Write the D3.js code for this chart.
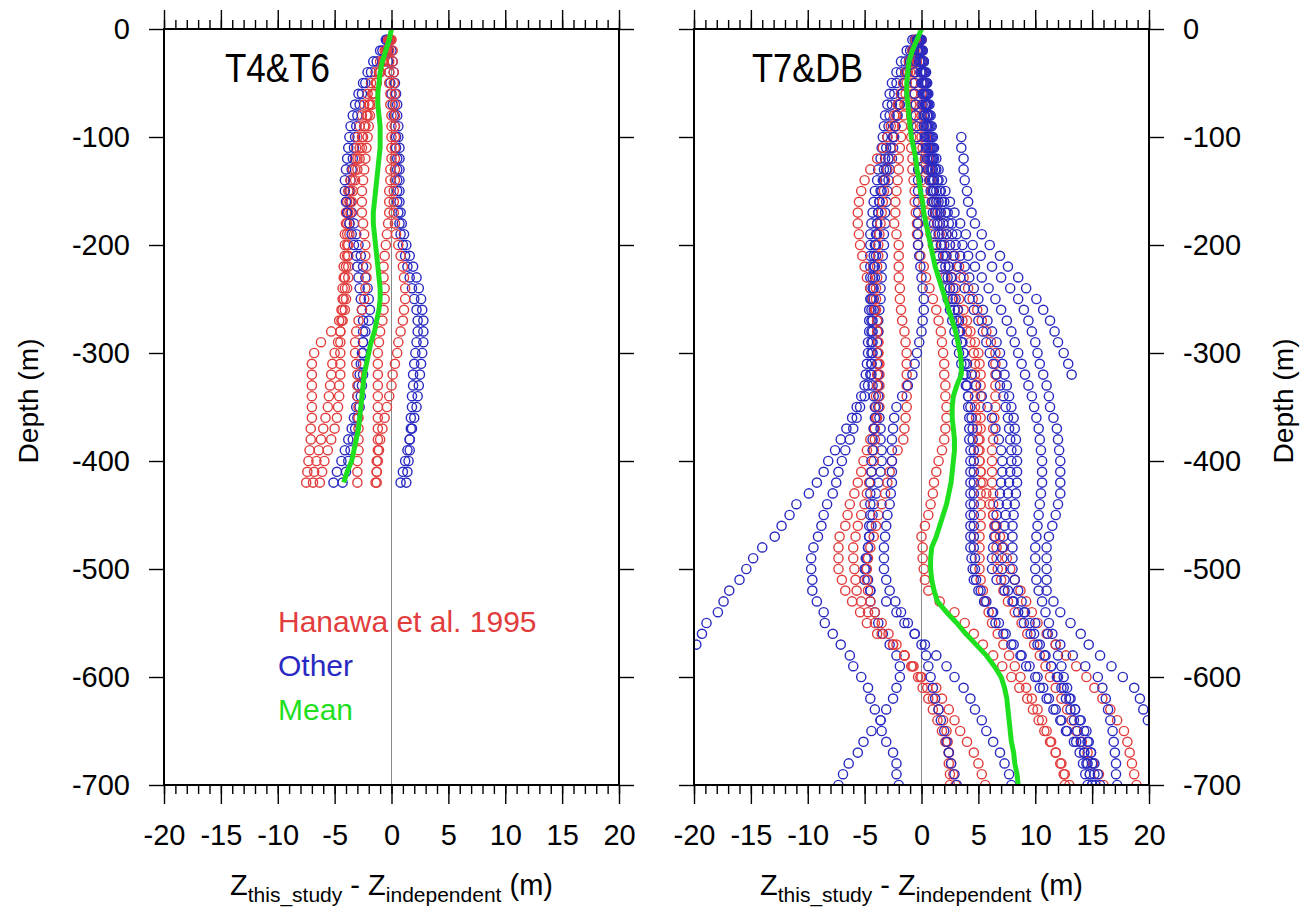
<!DOCTYPE html>
<html>
<head>
<meta charset="utf-8">
<script src="https://cdn.jsdelivr.net/npm/d3@7"></script>
<style>
  body { margin: 0; background: #fff; }
  text { font-family: "Liberation Sans", Arial, Helvetica, sans-serif; }
</style>
</head>
<body>
<div id="chart"></div>
<script>
// ---- data: x offsets (m) every 10 m of depth ----
const xTicks = [-20, -15, -10, -5, 0, 5, 10, 15, 20];
const yTicks = [0, -100, -200, -300, -400, -500, -600, -700];
const depthStep = 10;

// T4&T6 panel, circles start at 10 m
const t4Red = [
  [-0.3,-0.6,-1.0,-1.4,-1.8,-2.1,-2.4,-2.6,-2.8,-3.0,-3.1,-3.2,-3.4,-3.6,-3.8,-3.9,-4.0,-4.0,-4.1,-4.1,-4.1,-4.2,-4.2,-4.3,-4.3,-4.4,-4.6,-5.3,-6.2,-6.8,-7.0,-7.0,-7.0,-7.0,-7.0,-7.0,-7.1,-7.1,-7.2,-7.3,-7.4,-7.5],
  [-0.2,-0.5,-0.8,-1.1,-1.4,-1.7,-2.0,-2.2,-2.4,-2.6,-2.8,-3.0,-3.2,-3.4,-3.6,-3.7,-3.8,-3.9,-3.9,-3.9,-3.9,-4.0,-4.1,-4.1,-4.2,-4.3,-4.4,-4.5,-4.7,-5.0,-5.2,-5.3,-5.4,-5.5,-5.6,-5.8,-6.0,-6.2,-6.4,-6.6,-6.8,-6.9],
  [-0.2,-0.4,-0.7,-1.0,-1.3,-1.6,-1.9,-2.1,-2.3,-2.5,-2.6,-2.8,-3.0,-3.2,-3.4,-3.5,-3.6,-3.7,-3.7,-3.8,-3.8,-3.8,-3.8,-3.9,-4.0,-4.1,-4.3,-4.5,-4.5,-4.5,-4.5,-4.5,-4.6,-4.6,-4.7,-4.8,-5.0,-5.3,-5.6,-5.9,-6.1,-6.3],
  [-0.2,-0.4,-0.7,-1.0,-1.3,-1.5,-1.7,-1.9,-2.0,-2.1,-2.2,-2.3,-2.4,-2.5,-2.6,-2.6,-2.6,-2.5,-2.4,-2.3,-2.3,-2.2,-2.2,-2.3,-2.4,-2.6,-2.9,-3.1,-3.2,-3.2,-3.1,-3.0,-3.0,-3.0,-2.9,-2.9,-2.9,-2.9,-2.9,-3.0,-3.0,-3.0],
  [-0.1,-0.2,-0.2,-0.2,-0.2,-0.1,-0.1,0.0,0.0,0.0,0.0,0.0,-0.1,-0.1,-0.2,-0.2,-0.2,-0.3,-0.4,-0.5,-0.6,-0.7,-0.7,-0.6,-0.6,-0.7,-0.8,-1.0,-1.1,-1.2,-1.2,-1.2,-1.2,-1.2,-1.2,-1.2,-1.2,-1.2,-1.2,-1.3,-1.3,-1.3],
  [0.0,0.1,0.1,0.2,0.2,0.3,0.3,0.3,0.3,0.3,0.3,0.3,0.3,0.3,0.2,0.2,0.2,0.3,0.4,0.6,0.8,1.0,1.1,1.2,1.2,1.1,1.0,0.8,0.6,0.5,0.3,0.1,0.0,-0.2,-0.4,-0.6,-0.8,-1.0,-1.1,-1.2,-1.3,-1.4]
];
const t4Blue = [
  [-0.4,-0.8,-1.3,-1.8,-2.3,-2.6,-2.8,-3.0,-3.1,-3.2,-3.3,-3.4,-3.5,-3.6,-3.7,-3.6,-3.5,-3.3,-3.1,-2.9,-2.7,-2.5,-2.3,-2.1,-2.0,-1.9,-2.0,-2.3,-2.5,-2.6,-2.7,-2.8,-2.9,-3.0,-3.1,-3.3,-3.5,-3.8,-4.1,-4.4,-4.8,-5.1],
  [-0.1,0.0,0.1,0.2,0.3,0.4,0.5,0.5,0.6,0.6,0.7,0.7,0.7,0.7,0.7,0.7,0.8,0.9,1.1,1.3,1.6,1.9,2.2,2.4,2.6,2.7,2.8,2.8,2.8,2.7,2.6,2.5,2.4,2.3,2.2,2.0,1.8,1.6,1.4,1.2,1.0,0.8],
  [-0.2,-0.3,-0.3,-0.2,-0.1,0.0,0.1,0.2,0.3,0.4,0.4,0.5,0.5,0.5,0.5,0.5,0.6,0.7,0.8,1.0,1.2,1.4,1.6,1.8,2.0,2.2,2.3,2.3,2.2,2.1,2.0,1.9,1.9,1.8,1.8,1.7,1.7,1.6,1.6,1.5,1.4,1.3],
  [-0.5,-1.0,-1.6,-2.1,-2.5,-2.9,-3.2,-3.4,-3.6,-3.7,-3.8,-3.9,-4.0,-4.1,-4.1,-4.0,-3.9,-3.7,-3.5,-3.3,-3.1,-3.0,-2.9,-2.8,-2.7,-2.6,-2.5,-2.5,-2.5,-2.5,-2.5,-2.5,-2.6,-2.7,-2.8,-3.0,-3.2,-3.4,-3.6,-3.8,-4.0,-4.3]
];
// mean starts at 0 m
const t4Mean = [0,-0.2,-0.5,-0.8,-1.0,-1.1,-1.2,-1.2,-1.1,-1.0,-1.0,-1.0,-1.1,-1.2,-1.3,-1.4,-1.5,-1.6,-1.6,-1.5,-1.4,-1.3,-1.2,-1.1,-1.0,-1.0,-1.1,-1.3,-1.5,-1.8,-2.0,-2.2,-2.4,-2.5,-2.6,-2.7,-2.8,-2.9,-3.1,-3.3,-3.5,-3.9,-4.2];

// T7&DB panel
const t7Red = [
  [-0.3,-0.4,-0.6,-0.7,-0.8,-0.8,-0.9,-0.9,-0.9,-0.9,-0.9,-0.8,-0.8,-0.7,-0.6,-0.6,-0.5,-0.4,-0.4,-0.3,-0.1,0.2,0.4,0.7,1.0,1.3,1.5,1.7,1.8,1.9,2.0,2.0,2.1,2.1,2.2,2.2,2.1,2.0,1.8,1.5,1.3,1.1,1.0,0.8,0.6,0.3,0.0,0.1,0.1,0.2,0.3,0.6,1.6,2.9,3.8,4.6,5.4,6.3,7.1,7.9,8.6,9.3,9.8,10.3,10.8,11.3,11.8,12.3,12.5,12.6],
  [-0.5,-0.7,-1.0,-1.2,-1.5,-1.8,-2.1,-2.4,-2.7,-3.0,-3.4,-3.9,-4.5,-5.0,-5.3,-5.5,-5.6,-5.6,-5.5,-5.4,-5.2,-5.0,-4.8,-4.5,-4.3,-4.1,-3.9,-3.8,-3.8,-3.8,-3.7,-3.7,-3.7,-3.7,-3.7,-3.9,-4.2,-4.5,-4.8,-5.1,-5.3,-5.6,-5.9,-6.3,-6.5,-6.7,-7.2,-7.3,-7.3,-7.3,-7.0,-6.7,-6.1,-5.4,-4.8,-3.9,-2.5,-1.5,-0.9,-0.1,0.5,1.0,1.5,1.9,2.2,2.3,2.4,2.4,2.5,2.5],
  [-0.5,-0.8,-1.1,-1.4,-1.6,-1.8,-2.0,-2.2,-2.4,-2.5,-2.7,-2.9,-3.0,-3.2,-3.3,-3.4,-3.5,-3.6,-3.7,-3.8,-3.8,-3.9,-3.9,-4.0,-4.0,-4.0,-3.9,-3.9,-3.8,-3.8,-3.8,-3.9,-3.9,-4.0,-4.0,-4.0,-4.1,-4.1,-4.2,-4.2,-4.4,-4.6,-4.8,-5.0,-5.3,-5.6,-5.8,-6.0,-6.0,-5.9,-5.8,-5.7,-5.3,-4.7,-4.1,-3.5,-2.5,-1.5,-0.7,0.0,1.3,1.8,2.4,2.9,3.4,4.0,4.6,5.0,5.3,5.6],
  [-0.4,-0.6,-0.8,-1.0,-1.3,-1.4,-1.5,-1.6,-1.7,-1.8,-1.9,-2.0,-2.0,-2.1,-2.2,-2.3,-2.3,-2.4,-2.2,-2.0,-2.0,-2.0,-2.0,-1.9,-1.9,-1.8,-1.7,-1.5,-1.4,-1.3,-1.3,-1.3,-1.3,-1.3,-1.3,-1.4,-1.5,-1.6,-2.1,-2.6,-2.8,-3.0,-3.2,-3.5,-3.8,-4.0,-4.2,-4.5,-4.7,-4.8,-4.8,-4.7,-4.5,-4.1,-3.5,-2.9,-2.2,-1.5,-0.8,-0.3,0.1,0.6,1.0,1.4,1.8,2.1,2.4,2.6,2.8,3.0],
  [-0.2,-0.3,-0.4,-0.5,-0.6,-0.6,-0.6,-0.6,-0.5,-0.5,-0.4,-0.3,-0.2,0.0,0.2,0.3,0.5,0.6,0.8,1.0,1.3,1.7,2.1,2.5,2.8,3.2,3.6,4.0,4.3,4.6,4.7,4.7,4.7,4.7,4.7,4.8,4.9,5.0,5.0,5.1,5.2,5.2,5.2,5.2,5.2,5.2,5.1,5.1,5.1,5.1,5.2,5.4,5.6,5.9,6.2,6.7,7.2,7.7,8.2,8.7,9.2,9.7,10.2,10.6,11.0,11.4,11.8,12.2,12.6,13.0],
  [-0.1,-0.1,-0.1,0.0,0.0,0.0,0.0,0.0,0.0,0.0,0.1,0.3,0.5,0.7,1.0,1.3,1.6,1.9,2.2,2.5,2.9,3.3,3.7,4.1,4.5,4.9,5.3,5.7,6.1,6.5,6.5,6.5,6.5,6.5,6.5,6.4,6.3,6.3,6.2,6.2,6.2,6.2,6.3,6.3,6.3,6.4,6.5,6.6,6.6,6.7,7.0,7.2,7.6,8.2,8.8,9.3,9.9,10.4,10.9,11.3,11.8,12.3,12.8,13.2,13.6,14.1,14.6,15.1,15.6,16.0],
  [0.0,0.0,0.1,0.1,0.2,0.2,0.3,0.3,0.4,0.4,0.5,0.6,0.7,0.8,0.9,1.0,1.2,1.4,1.6,1.8,2.1,2.4,2.7,3.0,3.3,3.7,4.0,4.3,4.7,5.0,5.1,5.2,5.2,5.2,5.2,5.2,5.2,5.1,5.1,5.1,5.2,5.4,5.7,6.0,6.3,6.6,6.9,7.2,7.5,7.8,8.2,8.7,9.2,9.7,10.2,11.0,11.8,12.7,13.6,14.5,15.2,15.9,16.6,17.2,17.8,18.1,18.3,18.5,18.7,18.9]
];
const t7Blue = [
  [-0.8,-1.3,-1.8,-2.2,-2.6,-2.8,-3.0,-3.2,-3.3,-3.4,-3.5,-3.6,-3.8,-3.9,-4.1,-4.2,-4.3,-4.4,-4.5,-4.5,-4.5,-4.5,-4.5,-4.5,-4.5,-4.6,-4.6,-4.6,-4.7,-4.7,-4.8,-4.9,-5.0,-5.3,-5.7,-6.1,-6.6,-7.1,-7.6,-8.2,-8.6,-9.2,-9.9,-11.0,-11.6,-12.3,-12.9,-14.0,-14.8,-15.4,-16.0,-16.9,-17.4,-17.9,-18.9,-19.3,-19.8,-20.5],
  [-0.6,-1.0,-1.4,-1.8,-2.2,-2.4,-2.6,-2.8,-2.9,-3.0,-3.1,-3.2,-3.3,-3.4,-3.6,-3.7,-3.8,-3.9,-3.9,-4.0,-4.0,-4.1,-4.1,-4.2,-4.2,-4.2,-4.3,-4.3,-4.3,-4.3,-4.4,-4.5,-4.7,-5.0,-5.4,-5.7,-6.0,-6.3,-6.7,-7.0,-7.3,-7.5,-7.8,-8.3,-8.6,-8.8,-9.1,-9.5,-9.7,-9.7,-9.6,-9.6,-9.2,-8.6,-8.5,-7.8,-7.1,-6.3,-6.0,-5.3,-4.7,-4.5,-4.1,-3.6,-3.5,-3.1,-2.5,-2.2,-2.2,-2.0],
  [-0.4,-0.8,-1.1,-1.4,-1.6,-1.8,-2.0,-2.2,-2.3,-2.4,-2.5,-2.6,-2.8,-2.9,-3.0,-3.1,-3.2,-3.2,-3.3,-3.3,-3.4,-3.5,-3.5,-3.6,-3.6,-3.7,-3.8,-3.8,-3.9,-3.9,-3.9,-3.8,-3.8,-3.8,-3.8,-3.7,-3.6,-3.6,-3.5,-3.5,-3.6,-3.8,-4.0,-4.2,-4.3,-4.4,-4.6,-4.7,-4.9,-5.0,-5.0,-4.5,-4.5,-4.1,-3.8,-3.4,-2.8,-2.2,-1.9,-1.9,-2.2,-2.5,-3.1,-3.6,-4.4,-5.1,-5.6,-6.4,-6.9,-7.3],
  [-0.3,-0.7,-1.0,-1.3,-1.5,-1.7,-1.9,-2.1,-2.3,-2.5,-2.7,-2.9,-3.1,-3.3,-3.5,-3.7,-3.8,-3.9,-4.0,-4.1,-4.2,-4.2,-4.3,-4.3,-4.4,-4.4,-4.4,-4.4,-4.4,-4.4,-4.4,-4.4,-4.3,-4.2,-4.1,-4.1,-4.2,-4.3,-4.3,-4.4,-4.4,-4.5,-4.5,-4.5,-4.5,-4.6,-4.6,-4.7,-4.8,-4.9,-4.7,-4.5,-3.1,-2.2,-1.5,-0.6,0.3,1.3,2.2,2.9,3.7,4.3,4.7,5.3,5.7,6.3,6.9,7.3,7.7,7.9],
  [3.5,3.5,3.7,3.7,3.8,4.0,4.1,4.4,4.7,5.3,6.0,6.9,7.6,8.5,9.2,10.1,10.7,11.3,11.7,12.0,12.5,12.9,13.2],
  [-0.1,0.0,0.2,0.4,0.5,0.6,0.7,0.8,0.9,1.0,1.1,1.3,1.5,1.8,2.1,2.5,2.9,3.4,3.9,4.5,5.2,6.2,7.0,7.8,8.5,9.0,9.4,9.7,10.0,10.2,10.4,10.7,11.0,11.2,11.3,11.6,11.9,12.0,12.1,12.2,12.2,12.2,12.2,12.0,11.8,11.5,11.2,11.0,11.0,11.0,11.0,11.0,11.6,12.2,13.1,14.0,14.7,15.7,16.7,17.7,18.7,19.2,19.5,19.9],
  [0.0,0.1,0.2,0.3,0.4,0.5,0.6,0.7,0.8,0.9,1.0,1.1,1.3,1.5,1.7,2.0,2.3,2.7,3.1,3.6,4.1,4.7,5.3,5.9,6.5,7.0,7.5,7.9,8.2,8.5,8.8,9.1,9.4,9.7,9.9,10.1,10.3,10.4,10.5,10.6,10.6,10.6,10.5,10.4,10.3,10.2,10.1,10.0,10.0,10.0,10.1,10.3,10.6,10.9,11.2,11.5,11.8,12.0,12.3,12.5,12.8,13.1,13.5,13.9,14.3,14.6,14.9,15.2,15.5,15.7],
  [0.0,0.1,0.2,0.3,0.4,0.5,0.5,0.6,0.7,0.8,0.9,1.0,1.2,1.4,1.6,1.8,2.1,2.4,2.7,3.0,3.4,3.8,4.2,4.6,5.0,5.4,5.8,6.2,6.6,6.9,7.1,7.3,7.5,7.7,7.9,8.1,8.2,8.3,8.4,8.4,8.4,8.4,8.3,8.2,8.1,8.0,8.0,8.0,8.0,8.0,8.2,8.5,8.8,9.1,9.5,9.9,10.4,10.9,11.4,12.0,12.5,13.0,13.5,14.0,14.5,14.7,14.9,15.0,15.2,15.3],
  [-0.1,0.0,0.1,0.2,0.3,0.4,0.5,0.5,0.6,0.7,0.8,0.9,1.0,1.1,1.3,1.5,1.7,1.9,2.2,2.5,2.8,3.1,3.4,3.8,4.2,4.6,5.0,5.4,5.7,6.0,6.3,6.6,6.9,7.2,7.4,7.6,7.7,7.8,7.9,7.9,7.8,7.7,7.6,7.5,7.4,7.3,7.2,7.1,7.1,7.1,7.3,7.6,8.0,8.5,9.0,9.6,10.2,10.8,11.4,11.9,12.3,12.7,13.1,13.4,13.7,14.0,14.3,14.5,14.8,15.0],
  [-0.2,-0.1,0.0,0.1,0.2,0.3,0.4,0.5,0.5,0.6,0.7,0.8,0.9,1.0,1.1,1.3,1.4,1.6,1.8,2.0,2.2,2.4,2.6,2.8,3.0,3.2,3.3,3.4,3.6,3.7,4.0,4.4,4.8,5.3,5.8,6.2,6.5,6.8,7.0,7.1,7.1,7.0,6.9,6.8,6.6,6.5,6.4,6.3,6.2,6.2,6.6,7.3,8.1,9.0,10.0,11.1,12.2,13.3,14.4,15.5,15.9,16.2,16.4,16.6,16.8,16.9,17.0,17.1,17.1,17.2],
  [-0.3,-0.2,-0.1,0.0,0.1,0.2,0.3,0.3,0.4,0.5,0.6,0.7,0.8,0.9,1.0,1.1,1.2,1.4,1.5,1.7,1.9,2.1,2.3,2.5,2.7,2.9,3.1,3.3,3.5,3.7,3.8,3.9,4.0,4.1,4.1,4.2,4.2,4.2,4.3,4.3,4.3,4.3,4.3,4.3,4.3,4.3,4.3,4.3,4.4,4.5,4.6,5.0,5.5,6.2,6.5,7.2,7.9,8.7,9.2,10.0,10.4,11.0,11.6,12.2,12.7,13.6,14.3,14.6,14.8,15.0],
  [-0.4,-0.3,-0.2,-0.1,0.0,0.1,0.1,0.2,0.2,0.3,0.4,0.5,0.6,0.7,0.8,0.9,1.0,1.1,1.2,1.3,1.5,1.7,1.9,2.1,2.3,2.5,2.7,2.9,3.1,3.3,3.5,3.7,3.9,4.1,4.3,4.4,4.5,4.5,4.6,4.6,4.6,4.6,4.6,4.6,4.6,4.6,4.6,4.6,4.7,4.7,4.8,5.2,5.7,6.3,6.8,7.4,8.1,8.8,9.5,10.2,10.7,11.2,11.8,12.3,12.8,13.4,13.9,14.2,14.4,14.6],
  [-0.2,-0.4,-0.5,-0.6,-0.6,-0.6,-0.5,-0.5,-0.4,-0.4,-0.3,-0.3,-0.3,-0.3,-0.3,-0.3,-0.3,-0.3,-0.3,-0.3,-0.2,-0.1,0.0,0.1,0.2,0.2,0.1,0.0,-0.2,-0.4,-0.6,-0.8,-1.2,-1.7,-2.2,-2.4,-2.5,-2.6,-2.6,-2.6,-2.6,-2.6,-2.7,-2.8,-3.0,-3.1,-3.2,-3.3,-3.3,-3.3,-3.1,-2.8,-2.3,-1.8,-1.2,-0.6,0.0,0.4,0.6,0.8,1.0,1.2,1.5,1.7,2.0,2.2,2.4,2.6,2.9,3.1]
];
// first depth (m) of each blue profile
const t7BlueTop = [10, 10, 10, 10, 100, 10, 10, 10, 10, 10, 10, 10, 10];
const t7Mean = [0,-0.4,-0.8,-1.1,-1.2,-1.3,-1.3,-1.2,-1.1,-1.0,-0.9,-0.7,-0.5,-0.4,-0.2,-0.1,0.1,0.2,0.4,0.6,0.8,1.0,1.2,1.5,1.8,2.1,2.4,2.7,3.0,3.2,3.4,3.5,3.5,3.1,2.8,2.7,2.7,2.8,2.9,2.9,2.8,2.7,2.6,2.4,2.2,1.9,1.6,1.3,0.9,0.8,0.8,0.9,1.1,1.4,2.2,3.1,3.9,4.8,5.7,6.4,7.0,7.3,7.5,7.6,7.7,7.8,7.9,8.1,8.2,8.4,8.5];

const legendItems = ["Hanawa et al. 1995", "Other", "Mean"];

// ---- layout ----
const W = 1309, H = 910;
const pw = 455, ph = 756, panelTop = 29;
const RED = "#e23c3c", BLUE = "#2a2ac2", GREEN = "#1fe01f";
const FONT = 29;

const svg = d3.select("#chart").append("svg").attr("width", W).attr("height", H);

function toPoints(vals, topDepth) {
  return vals.map((v, i) => ({ x: v, d: -(topDepth + i * depthStep) }));
}

function drawPanel(cfg) {
  const g = svg.append("g").attr("transform", `translate(${cfg.left},${panelTop})`);
  const x = d3.scaleLinear().domain([-20, 20]).range([0, pw]);
  const y = d3.scaleLinear().domain([-700, 0]).range([ph, 0]);

  const clipId = "clip-" + cfg.id;
  g.append("clipPath").attr("id", clipId).append("rect").attr("width", pw).attr("height", ph);
  const plot = g.append("g").attr("clip-path", `url(#${clipId})`);

  plot.append("line").attr("x1", x(0)).attr("x2", x(0)).attr("y1", 0).attr("y2", ph)
    .attr("stroke", "#8a8a8a").attr("stroke-width", 1);

  // interleave blue/red so colours overlap like the original
  const series = [];
  const n = Math.max(cfg.blue.length, cfg.red.length);
  for (let i = 0; i < n; i++) {
    if (cfg.blue[i]) series.push({ c: BLUE, pts: toPoints(cfg.blue[i], cfg.blueTop ? cfg.blueTop[i] : 10) });
    if (cfg.red[i]) series.push({ c: RED, pts: toPoints(cfg.red[i], 10) });
  }
  series.forEach(s => {
    plot.append("g").selectAll("circle").data(s.pts).join("circle")
      .attr("cx", d => x(d.x)).attr("cy", d => y(d.d)).attr("r", 4.6)
      .attr("fill", "none").attr("stroke", s.c).attr("stroke-width", 1.4);
  });

  const line = d3.line().x(d => x(d.x)).y(d => y(d.d));
  plot.append("path").datum(toPoints(cfg.mean, 0)).attr("d", line)
    .attr("fill", "none").attr("stroke", GREEN).attr("stroke-width", 5)
    .attr("stroke-linejoin", "round");

  // axes
  const minor = d3.range(-20, 21, 1);
  const styleAxis = sel => {
    sel.select(".domain").remove();
    sel.selectAll("line").attr("stroke", "#000").attr("stroke-width", 1.4);
    sel.selectAll("text").attr("font-size", FONT).attr("fill", "#000")
      .attr("font-family", '"Liberation Sans", Arial, Helvetica, sans-serif');
  };
  const fmt = d => String(d);
  g.append("g").attr("transform", `translate(0,${ph})`)
    .call(d3.axisBottom(x).tickValues(minor).tickSize(9).tickFormat("")).call(styleAxis);
  g.append("g").attr("transform", `translate(0,${ph})`)
    .call(d3.axisBottom(x).tickValues(xTicks).tickSize(19).tickPadding(20).tickFormat(fmt)).call(styleAxis);
  g.append("g").call(d3.axisTop(x).tickValues(minor).tickSize(9).tickFormat("")).call(styleAxis);
  g.append("g").call(d3.axisTop(x).tickValues(xTicks).tickSize(19).tickFormat("")).call(styleAxis);
  g.append("g").call(d3.axisLeft(y).tickValues(yTicks).tickSize(15).tickPadding(19)
    .tickFormat(cfg.labelLeft ? fmt : "")).call(styleAxis);
  g.append("g").attr("transform", `translate(${pw},0)`)
    .call(d3.axisRight(y).tickValues(yTicks).tickSize(15).tickPadding(19)
    .tickFormat(cfg.labelLeft ? "" : fmt)).call(styleAxis);

  g.append("rect").attr("width", pw).attr("height", ph)
    .attr("fill", "none").attr("stroke", "#000").attr("stroke-width", 2);

  // panel name
  g.append("text").attr("x", cfg.nameX).attr("y", 53).attr("font-size", 41)
    .attr("textLength", cfg.nameW).attr("lengthAdjust", "spacingAndGlyphs").text(cfg.name);

  // x title
  const t = g.append("text").attr("x", x(0)).attr("y", 866).attr("text-anchor", "middle")
    .attr("font-size", FONT);
  t.append("tspan").text("Z");
  t.append("tspan").attr("font-size", 21).attr("dy", 7).text("this_study");
  t.append("tspan").attr("dy", -7).text(" - Z");
  t.append("tspan").attr("font-size", 21).attr("dy", 7).text("independent");
  t.append("tspan").attr("dy", -7).text(" (m)");

  // y title
  const yx = cfg.labelLeft ? -136 : pw + 134;
  g.append("text").attr("transform", `translate(${yx},${ph / 2 - 6}) rotate(-90)`)
    .attr("text-anchor", "middle").attr("dy", "0.35em").attr("font-size", 28)
    .attr("textLength", 125).attr("lengthAdjust", "spacingAndGlyphs").text("Depth (m)");

  return { g, x, y };
}

const left = drawPanel({ id: "t4", left: 164, red: t4Red, blue: t4Blue, mean: t4Mean,
  name: "T4&T6", nameX: 61, nameW: 105, labelLeft: true });
drawPanel({ id: "t7", left: 694, red: t7Red, blue: t7Blue, blueTop: t7BlueTop, mean: t7Mean,
  name: "T7&DB", nameX: 58, nameW: 111, labelLeft: false });

// legend (in left panel)
const legendColors = [RED, BLUE, GREEN];
left.g.append("g").selectAll("text").data(legendItems).join("text")
  .attr("x", 114).attr("y", (d, i) => 603 + i * 44)
  .attr("font-size", 30).attr("fill", (d, i) => legendColors[i]).text(d => d);
</script>
</body>
</html>
